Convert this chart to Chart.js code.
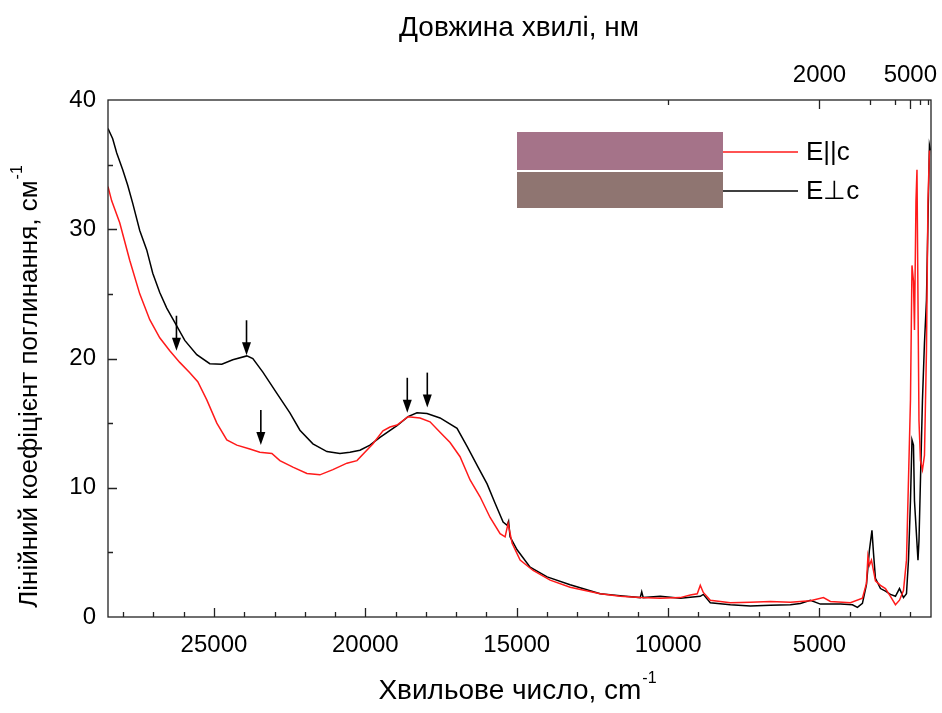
<!DOCTYPE html>
<html>
<head>
<meta charset="utf-8">
<script src="https://cdn.jsdelivr.net/npm/chart.js@4.4.1/dist/chart.umd.min.js"></script>
<style>
  html, body { margin: 0; padding: 0; background: #fff; }
</style>
</head>
<body>
<canvas id="chart" width="942" height="713"></canvas>
<script>
// ---- data ----
// E⊥c (black)
const perpWn = [28500, 28345, 28212, 28014, 27849, 27683, 27452, 27221, 27022, 26791, 26560, 26295,
  25964, 25568, 25138, 24741, 24378, 23915, 23716, 23385, 22922, 22492, 22161, 21732, 21269, 20839,
  20509, 20178, 19848, 19517, 18955, 18591, 18294, 17963, 17533, 16971, 16640, 16277, 15979, 15715,
  15450, 15318, 15269, 15220, 14988, 14558, 13996, 13236, 12244, 11583, 10921, 10872, 10822, 10260,
  9599, 8937, 8838, 8606, 7945, 7284, 6623, 5962, 5631, 5300, 4970, 4309, 3912, 3747, 3582, 3449,
  3350, 3267, 3218, 3152, 2986, 2821, 2656, 2491, 2358, 2226, 2127, 2061, 1995, 1945, 1896, 1863,
  1747, 1714, 1665, 1599, 1533, 1467, 1417, 1368, 1335];
const perpAbs = [37.8, 37.0, 35.9, 34.6, 33.4, 32.0, 29.9, 28.4, 26.6, 25.1, 23.9, 22.8,
  21.4, 20.3, 19.6, 19.55, 19.9, 20.2, 20.0, 18.95, 17.3, 15.8, 14.45, 13.4, 12.8, 12.65,
  12.75, 12.9, 13.3, 13.9, 14.8, 15.5, 15.8, 15.75, 15.4, 14.6, 13.2, 11.6, 10.3, 8.8,
  7.35, 7.1, 7.4, 6.2, 5.2, 3.85, 3.1, 2.5, 1.8, 1.65, 1.5, 1.95, 1.5, 1.6,
  1.45, 1.6, 1.75, 1.1, 0.95, 0.85, 0.9, 0.95, 1.05, 1.3, 1.0, 1.0, 0.95, 0.75, 1.05, 2.5,
  5.2, 6.7, 5.0, 3.0, 2.2, 2.0, 1.75, 1.6, 2.2, 1.5, 1.8, 4.4, 9.0, 13.7, 13.3, 9.0,
  4.4, 5.9, 10.6, 16.8, 21.2, 24.5, 30.7, 36.5, 36.1];

// E||c (red)
const parWn = [28500, 28378, 28113, 27783, 27452, 27121, 26791, 26460, 26130, 25799, 25535, 25237,
  24906, 24576, 24245, 23815, 23485, 23088, 22823, 22393, 21930, 21501, 21071, 20608, 20277, 19748,
  19418, 19186, 18955, 18591, 18194, 17864, 17533, 17202, 16872, 16541, 16211, 15880, 15549, 15384,
  15285, 15152, 14888, 14458, 13896, 13236, 12244, 11583, 10921, 10260, 9599, 9268, 9037, 8937,
  8838, 8606, 7945, 7284, 6623, 5962, 5300, 4870, 4639, 3978, 3582, 3449, 3400, 3350, 3284, 3218,
  3152, 2986, 2821, 2656, 2491, 2358, 2226, 2127, 2061, 1995, 1945, 1896, 1863, 1813, 1780, 1747,
  1714, 1665, 1599, 1533, 1467, 1417, 1368];
const parAbs = [33.3, 32.2, 30.5, 27.6, 25.0, 23.0, 21.6, 20.6, 19.7, 18.9, 18.2, 16.8,
  15.0, 13.7, 13.3, 13.0, 12.75, 12.65, 12.1, 11.6, 11.1, 11.0, 11.4, 11.9, 12.1, 13.4,
  14.4, 14.7, 14.85, 15.5, 15.4, 15.1, 14.3, 13.5, 12.4, 10.6, 9.3, 7.7, 6.45, 6.2,
  7.25, 5.7, 4.4, 3.6, 2.85, 2.3, 1.8, 1.6, 1.5, 1.45, 1.5, 1.7, 1.8, 2.45,
  1.9, 1.3, 1.1, 1.15, 1.2, 1.15, 1.25, 1.5, 1.2, 1.1, 1.45, 2.6, 4.7, 4.0, 4.4, 3.6,
  2.8, 2.45, 2.2, 1.6, 0.95, 1.3, 2.05, 4.4, 10.6, 16.8, 27.2, 26.0, 22.2, 32.2, 34.6, 24.5,
  15.2, 12.1, 11.4, 12.5, 20.6, 32.2, 36.1];

// arrows: tip position (wavenumber, absorption)
const arrowWn  = [26239, 23925, 23452, 18615, 17954];
const arrowAbs = [20.6, 20.25, 13.3, 15.8, 16.2];

const xTicks  = [25000, 20000, 15000, 10000, 5000];
const yTicks  = [0, 10, 20, 30, 40];
const nmMajor = [2000, 5000];
const nmMinor = [1000, 3000, 4000, 6000, 7000];

const seriesNames = ['E||c', 'E\u22A5c'];

const X_MIN = 1317, X_MAX = 28500;
const FONT = '"Liberation Sans", Arial, sans-serif';

function pts(xs, ys) { return xs.map((x, i) => ({ x: x, y: ys[i] })); }

// frame, inward ticks, arrows, legend and titles
const decor = {
  id: 'decor',
  afterDatasetsDraw(chart) {
    const { ctx, chartArea: a, scales } = chart;
    const sx = scales.x, sy = scales.y;
    ctx.save();
    ctx.strokeStyle = '#222';
    ctx.lineWidth = 1.3;
    ctx.strokeRect(a.left, a.top, a.right - a.left, a.bottom - a.top);

    ctx.beginPath();
    for (let v = 2000; v <= 28000; v += 1000) {
      const px = Math.round(sx.getPixelForValue(v)) + 0.5;
      const len = v % 5000 === 0 ? 9 : 5;
      ctx.moveTo(px, a.bottom); ctx.lineTo(px, a.bottom - len);
    }
    for (let v = 5; v < 40; v += 5) {
      const py = Math.round(sy.getPixelForValue(v)) + 0.5;
      const len = v % 10 === 0 ? 9 : 5;
      ctx.moveTo(a.left, py); ctx.lineTo(a.left + len, py);
    }
    nmMajor.concat(nmMinor).forEach(nm => {
      const px = Math.round(sx.getPixelForValue(1e7 / nm)) + 0.5;
      const len = nmMajor.includes(nm) ? 9 : 5;
      ctx.moveTo(px, a.top); ctx.lineTo(px, a.top + len);
    });
    ctx.stroke();

    // arrows
    ctx.fillStyle = '#000';
    ctx.strokeStyle = '#000';
    ctx.lineWidth = 1.6;
    arrowWn.forEach((w, i) => {
      const px = sx.getPixelForValue(w), py = sy.getPixelForValue(arrowAbs[i]);
      ctx.beginPath();
      ctx.moveTo(px, py - 35); ctx.lineTo(px, py - 10);
      ctx.stroke();
      ctx.beginPath();
      ctx.moveTo(px, py); ctx.lineTo(px - 4.5, py - 13); ctx.lineTo(px + 4.5, py - 13);
      ctx.closePath(); ctx.fill();
    });

    // legend: two crystal swatches with lines
    ctx.fillStyle = '#a57389';
    ctx.fillRect(517, 132, 206, 38);
    ctx.fillStyle = '#8f7571';
    ctx.fillRect(517, 172, 206, 36);
    ctx.lineWidth = 1.5;
    ctx.strokeStyle = '#ff1a1a';
    ctx.beginPath(); ctx.moveTo(723, 152); ctx.lineTo(798, 152); ctx.stroke();
    ctx.strokeStyle = '#000';
    ctx.beginPath(); ctx.moveTo(723, 191); ctx.lineTo(798, 191); ctx.stroke();
    ctx.fillStyle = '#000';
    ctx.font = '26px ' + FONT;
    ctx.textAlign = 'left';
    ctx.textBaseline = 'middle';
    ctx.fillText(seriesNames[0], 806, 153);
    ctx.fillText(seriesNames[1], 806, 192);

    // axis titles with superscripts
    const supText = (main, sup, x, y, size) => {
      ctx.font = size + 'px ' + FONT;
      const w1 = ctx.measureText(main).width;
      ctx.font = '16px ' + FONT;
      const w2 = ctx.measureText(sup).width;
      const x0 = x - (w1 + w2) / 2;
      ctx.font = size + 'px ' + FONT;
      ctx.fillText(main, x0, y);
      ctx.font = '16px ' + FONT;
      ctx.fillText(sup, x0 + w1 + 1, y - 12);
    };
    ctx.textAlign = 'left';
    ctx.textBaseline = 'middle';
    supText('Хвильове число, cm', '-1', 517, 691, 28);
    ctx.textAlign = 'center';
    ctx.font = '28px ' + FONT;
    ctx.fillText('Довжина хвилі, нм', 519, 28);
    ctx.translate(30, 387);
    ctx.rotate(-Math.PI / 2);
    ctx.textAlign = 'left';
    supText('Лінійний коефіцієнт поглинання, см', '-1', 0, 0, 26);
    ctx.restore();
  }
};

const tickFont = { family: FONT, size: 24 };
const noPad = s => { s.paddingLeft = 0; s.paddingRight = 0; };

new Chart(document.getElementById('chart'), {
  type: 'line',
  data: {
    datasets: [
      { label: seriesNames[0], data: pts(parWn, parAbs), borderColor: '#ff1a1a', borderWidth: 1.5,
        pointRadius: 0, tension: 0 },
      { label: seriesNames[1], data: pts(perpWn, perpAbs), borderColor: '#000', borderWidth: 1.5,
        pointRadius: 0, tension: 0 }
    ]
  },
  options: {
    responsive: false,
    animation: false,
    devicePixelRatio: 1,
    layout: { padding: { left: 0, right: 11, top: 0, bottom: 0 } },
    plugins: { legend: { display: false }, tooltip: { enabled: false } },
    scales: {
      x: {
        type: 'linear', position: 'bottom', min: X_MIN, max: X_MAX, reverse: true,
        grid: { display: false, drawTicks: false }, border: { display: false },
        ticks: { font: tickFont, color: '#000', padding: 14, maxRotation: 0, autoSkip: false,
          callback: v => String(v) },
        afterBuildTicks: s => { s.ticks = xTicks.map(v => ({ value: v })); },
        afterFit: s => { s.height = 96; noPad(s); }
      },
      x2: {
        type: 'linear', position: 'top', min: X_MIN, max: X_MAX, reverse: true,
        grid: { display: false, drawTicks: false }, border: { display: false },
        ticks: { font: tickFont, color: '#000', padding: 10, maxRotation: 0, autoSkip: false,
          callback: v => String(Math.round(1e7 / v)) },
        afterBuildTicks: s => { s.ticks = nmMajor.map(nm => ({ value: 1e7 / nm })); },
        afterFit: s => { s.height = 100; noPad(s); }
      },
      y: {
        min: 0, max: 40,
        grid: { display: false, drawTicks: false }, border: { display: false },
        ticks: { font: tickFont, color: '#000', padding: 12, callback: v => String(v) },
        afterBuildTicks: s => { s.ticks = yTicks.map(v => ({ value: v })); },
        afterFit: s => { s.width = 108; s.paddingTop = 0; s.paddingBottom = 0; }
      }
    }
  },
  plugins: [decor]
});
</script>
</body>
</html>
